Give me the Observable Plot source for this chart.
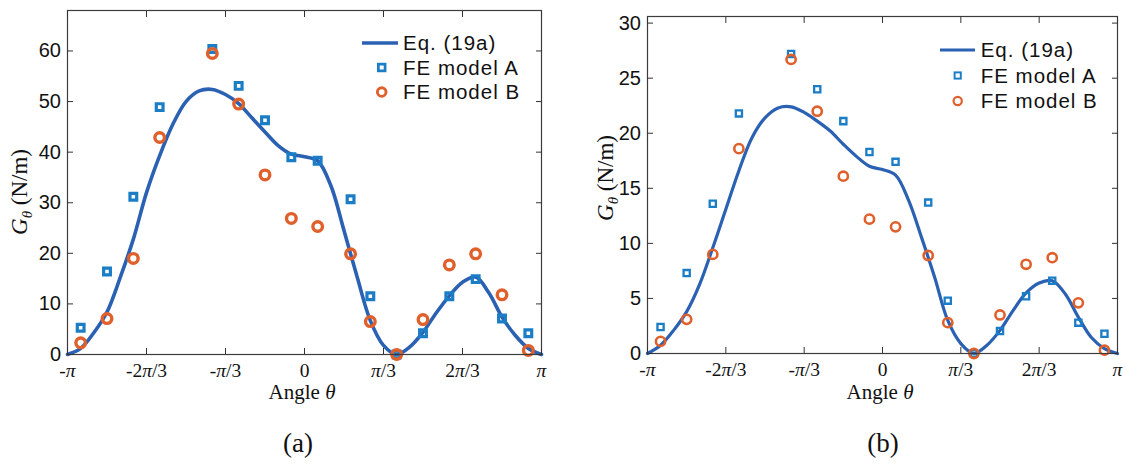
<!DOCTYPE html>
<html><head><meta charset="utf-8">
<script src="https://cdn.jsdelivr.net/npm/d3@7"></script>
<script src="https://cdn.jsdelivr.net/npm/@observablehq/plot@0.6"></script>
<style>
body{margin:0;background:#fff;}
#wrap{position:relative;width:1126px;height:470px;overflow:hidden;background:#fff;}
#wrap svg{position:absolute;top:0;}
.cap{position:absolute;font-family:"Liberation Serif",serif;font-size:27px;color:#111;transform:translateX(-50%);}
</style></head><body><div id="wrap"></div>
<script>
// ---- data ----
const xTicks = [-180, -120, -60, 0, 60, 120, 180];           // degrees
const xTickLabels = ["-π", "-2π/3", "-π/3", "0", "π/3", "2π/3", "π"];
const yTicksA = [0, 10, 20, 30, 40, 50, 60];
const yTicksB = [0, 5, 10, 15, 20, 25, 30];

const feAngles = [-170, -150, -130, -110, -70, -50, -30, -10, 10, 35, 50, 70, 90, 110, 130, 150, 170];
const aModelA = [5.3, 16.4, 31.2, 48.9, 60.4, 53.1, 46.3, 39.0, 38.3, 30.7, 11.5, 0, 4.2, 11.5, 14.9, 7.1, 4.2];
const aModelB = [2.3, 7.1, 19.0, 42.9, 59.5, 49.5, 35.5, 26.9, 25.3, 19.9, 6.5, 0, 6.9, 17.7, 19.9, 11.8, 0.8];
const bModelA = [2.4, 7.3, 13.6, 21.8, 27.2, 24.0, 21.1, 18.3, 17.4, 13.7, 4.8, 0, 2.05, 5.2, 6.6, 2.8, 1.8];
const bModelB = [1.1, 3.1, 9.0, 18.6, 26.7, 22.0, 16.1, 12.2, 11.5, 8.9, 2.8, 0, 3.5, 8.1, 8.7, 4.6, 0.3];

const curveAngles = [-180, -170, -160, -150, -140, -130, -120, -110, -100, -90, -80, -70, -60, -50, -40, -30, -20, -10, 0,
  10, 20, 30, 40, 50, 60, 70, 80, 90, 100, 110, 120, 130, 140, 150, 160, 170, 180];
const aEq = [0, 1.2, 4.3, 8.4, 15.2, 22.8, 32.0, 39.3, 45.5, 50.0, 52.1, 52.4, 51.4, 49.6, 46.8, 44.0, 41.3, 39.6, 39.1,
  38.3, 33.4, 24.5, 15.3, 6.7, 1.8, 0, 1.5, 4.4, 8.2, 11.6, 14.3, 15.3, 12.2, 7.4, 3.8, 1.2, 0];
const bEq = [0, 0.75, 2.1, 3.8, 6.3, 9.6, 13.1, 16.6, 19.6, 21.4, 22.3, 22.4, 21.9, 21.1, 20.2, 19.0, 17.9, 17.0, 16.7,
  16.2, 13.9, 10.5, 6.9, 3.0, 0.9, 0, 0.75, 2.1, 3.9, 5.5, 6.4, 6.6, 5.4, 3.3, 1.45, 0.45, 0];

const legendLabels = ["Eq. (19a)", "FE model A", "FE model B"];
const captions = ["(a)", "(b)"];

const lineColor = "#2a61b2", sqColor = "#1a7dc6", ciColor = "#e0602c";

const rows = (xs, ys) => xs.map((x, i) => ({angle: x, g: ys[i]}));

function panel(cfg) {
  const svg = Plot.plot({
    width: cfg.width, height: cfg.height,
    marginLeft: cfg.ml, marginRight: cfg.mr, marginTop: cfg.mt, marginBottom: cfg.mb,
    style: {fontFamily: "Liberation Sans", fontSize: "20px", color: "#333", background: "transparent", overflow: "visible"},
    x: {domain: [-180, 180]},
    y: {domain: [0, cfg.ymax]},
    marks: [
      Plot.line(rows(curveAngles, cfg.eq), {x: "angle", y: "g", stroke: lineColor, strokeWidth: cfg.lw, curve: "catmull-rom"}),
      Plot.dot(rows(feAngles, cfg.A), {x: "angle", y: "g", symbol: "square", r: cfg.sr, stroke: sqColor, strokeWidth: cfg.sw, fill: "none"}),
      Plot.dot(rows(feAngles, cfg.B), {x: "angle", y: "g", symbol: "circle", r: cfg.cr, stroke: ciColor, strokeWidth: cfg.cw, fill: "none"}),
      Plot.frame({stroke: "#3c3c3c", strokeWidth: 1.2}),
      Plot.axisX({ticks: xTicks, tickSize: -6, tickPadding: cfg.xpad, tickFormat: (d) => xTickLabels[xTicks.indexOf(d)],
        fontFamily: "Liberation Serif", fontSize: 19.5, label: null, fill: "#111"}),
      Plot.axisX({anchor: "top", ticks: xTicks, tickSize: -6, tickFormat: () => "", label: null}),
      Plot.axisY({ticks: cfg.yTicks, tickSize: -6, tickPadding: cfg.ypad, label: null, fill: "#111"}),
      Plot.axisY({anchor: "right", ticks: cfg.yTicks, tickSize: -6, tickFormat: () => "", label: null})
    ]
  });
  svg.style.left = cfg.left + "px";
  document.getElementById("wrap").appendChild(svg);
  const s = d3.select(svg);
  // italic pi in x tick labels
  s.selectAll('g[aria-label="x-axis tick label"] text').each(function () {
    const t = this.textContent;
    if (!t.includes("π")) return;
    const el = d3.select(this);
    el.text(null);
    t.split(/(π)/).filter(p => p !== "").forEach(p => {
      const ts = el.append("tspan").text(p);
      if (p === "π") ts.style("font-style", "italic");
    });
  });
  // y label
  const yl = s.append("text").attr("transform", `translate(${cfg.ylx},${cfg.yly}) rotate(-90)`)
    .attr("text-anchor", "middle").attr("fill", "#111")
    .style("font-family", "Liberation Serif").style("font-size", "23px");
  yl.append("tspan").style("font-style", "italic").text("G");
  yl.append("tspan").style("font-style", "italic").style("font-size", "15px").attr("dy", 5).text("θ");
  yl.append("tspan").attr("dy", -5).text(" (N/m)");
  // x label
  const xl = s.append("text").attr("x", cfg.xlx).attr("y", cfg.xly).attr("text-anchor", "middle").attr("fill", "#111")
    .style("font-family", "Liberation Serif").style("font-size", "21px");
  xl.append("tspan").text("Angle ");
  xl.append("tspan").style("font-style", "italic").text("θ");
  // legend
  const L = cfg.leg, lg = s.append("g");
  lg.append("line").attr("x1", L.x1).attr("x2", L.x2).attr("y1", L.y).attr("y2", L.y).attr("stroke", lineColor).attr("stroke-width", cfg.lw);
  const side = cfg.sr * Math.sqrt(Math.PI);
  lg.append("rect").attr("x", L.mx - side / 2).attr("y", L.y + L.dy - side / 2).attr("width", side).attr("height", side)
    .attr("fill", "none").attr("stroke", sqColor).attr("stroke-width", cfg.sw * 0.85);
  lg.append("circle").attr("cx", L.mx).attr("cy", L.y + 2 * L.dy).attr("r", cfg.cr * 0.9)
    .attr("fill", "none").attr("stroke", ciColor).attr("stroke-width", cfg.cw * 0.85);
  legendLabels.forEach((lab, i) => {
    lg.append("text").attr("x", L.tx).attr("y", L.y + i * L.dy).attr("dy", "0.36em").attr("fill", "#111")
      .attr("text-anchor", "start")
      .style("font-family", "Liberation Sans").style("font-size", "20.5px").style("letter-spacing", "1px").text(lab);
  });
}

panel({left: 0, width: 560, height: 410, ml: 67, mr: 19, mt: 10, mb: 56, ymax: 68, yTicks: yTicksA,
  eq: aEq, A: aModelA, B: aModelB, lw: 3.6, sr: 3.8, sw: 3.2, cr: 4.8, cw: 3.4, xpad: 15, ypad: 12.5,
  ylx: 27, yly: 192, xlx: 302, xly: 399,
  leg: {x1: 362, x2: 398, y: 43, dy: 24.5, mx: 381.7, tx: 403}});
panel({left: 580, width: 546, height: 410, ml: 67, mr: 9, mt: 16, mb: 57, ymax: 30.6, yTicks: yTicksB,
  eq: bEq, A: bModelA, B: bModelB, lw: 3.2, sr: 3.5, sw: 2.3, cr: 4.6, cw: 2.6, xpad: 15, ypad: 12.5,
  ylx: 33, yly: 178, xlx: 300, xly: 399,
  leg: {x1: 360, x2: 395, y: 50, dy: 25.5, mx: 377.7, tx: 400.7}});

const wrap = document.getElementById("wrap");
[[298, captions[0]], [883, captions[1]]].forEach(([x, t]) => {
  const d = document.createElement("div");
  d.className = "cap"; d.style.left = x + "px"; d.style.top = "428px"; d.textContent = t;
  wrap.appendChild(d);
});
</script></body></html>
